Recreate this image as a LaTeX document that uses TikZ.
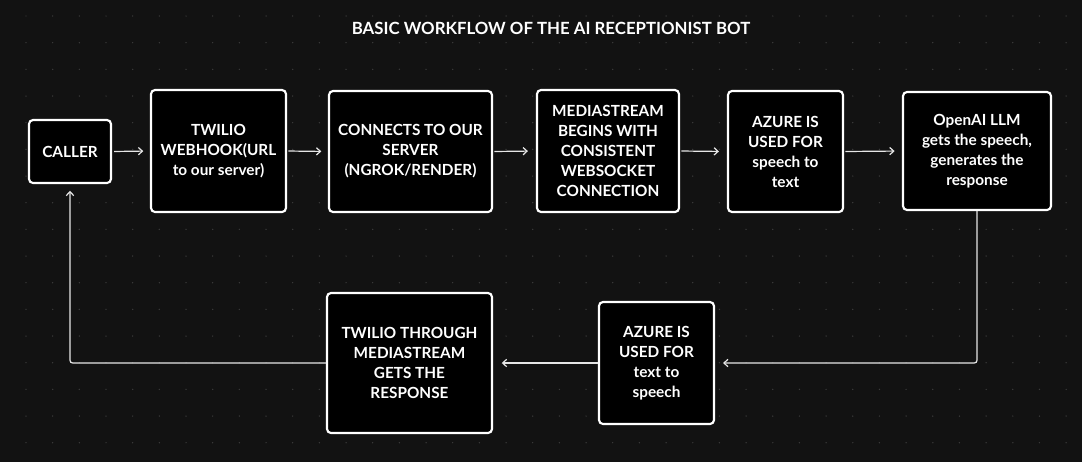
\documentclass[tikz,border=0pt]{standalone}
\usepackage{fontspec}
\setmainfont{Lato}
\usetikzlibrary{arrows.meta}
\definecolor{bgc}{HTML}{121212}
\definecolor{dotc}{HTML}{3C3C3C}
\definecolor{linec}{HTML}{E6E6E6}
\tikzset{
  stepbox/.style={draw=white, fill=black, line width=1.6pt, rounded corners=3pt,
    text=white, align=center, inner sep=2pt,
    font=\fontsize{11.5}{15}\selectfont\bfseries},
  arr/.style={draw=linec, line width=0.9pt, rounded corners=2pt,
    -{Straight Barb[length=3pt,width=5.5pt]}},
}
\begin{document}
\begin{tikzpicture}[x=0.75pt,y=-0.75pt]
\fill[bgc] (0,0) rectangle (1082,462);
\useasboundingbox (0,0) rectangle (1082,462);
% dot grid
\foreach \i in {0,...,40}{
  \foreach \j in {0,...,17}{
    \fill[dotc] ({26+26.67*\i},{16+26.67*\j}) circle (0.55pt);
  }
}
% title
\node[text=white, font=\fontsize{12.6}{15}\selectfont\bfseries] (title) at (551,28) {BASIC WORKFLOW OF THE AI RECEPTIONIST BOT};
% boxes
\node[stepbox, minimum width={82*0.75pt}, minimum height={63*0.75pt}] (caller) at (70,151.5) {CALLER};
\node[stepbox, minimum width={135*0.75pt}, minimum height={122*0.75pt}] (webhook) at (218.5,151) {TWILIO\\WEBHOOK(URL\\to our server)};
\node[stepbox, minimum width={163*0.75pt}, minimum height={121*0.75pt}] (connects) at (410.5,151.5) {CONNECTS TO OUR\\SERVER\\(NGROK/RENDER)};
\node[stepbox, minimum width={142*0.75pt}, minimum height={122*0.75pt}] (media) at (608,151) {MEDIASTREAM\\BEGINS WITH\\CONSISTENT\\WEBSOCKET\\CONNECTION};
\node[stepbox, minimum width={115*0.75pt}, minimum height={121*0.75pt}] (stt) at (785.5,151.5) {AZURE IS\\USED FOR\\speech to\\text};
\node[stepbox, minimum width={148*0.75pt}, minimum height={118*0.75pt}] (llm) at (977,151) {OpenAI LLM\\gets the speech,\\generates the\\response};
\node[stepbox, minimum width={165*0.75pt}, minimum height={140*0.75pt}] (through) at (409.5,363) {TWILIO THROUGH\\MEDIASTREAM\\GETS THE\\RESPONSE};
\node[stepbox, minimum width={115*0.75pt}, minimum height={122*0.75pt}] (tts) at (656.5,363) {AZURE IS\\USED FOR\\text to\\speech};
% connectors
\draw[arr, shorten <=1.5pt, shorten >=5pt] (caller.east) -- (webhook.west);
\draw[arr, shorten <=1pt, shorten >=5pt] (webhook.east) -- (connects.west);
\draw[arr, shorten <=1pt, shorten >=6pt] (connects.east) -- (media.west);
\draw[arr, shorten <=1pt, shorten >=6pt] (media.east) -- (stt.west);
\draw[arr, shorten <=1pt, shorten >=5.5pt] (stt.east) -- (llm.west);
\draw[arr, shorten >=6pt] (llm.south) |- (tts.east);
\draw[arr, shorten >=6.5pt] (tts.west) -- (through.east);
\draw[arr, shorten >=5pt] (through.west) -| (caller.south);
\end{tikzpicture}
\end{document}
